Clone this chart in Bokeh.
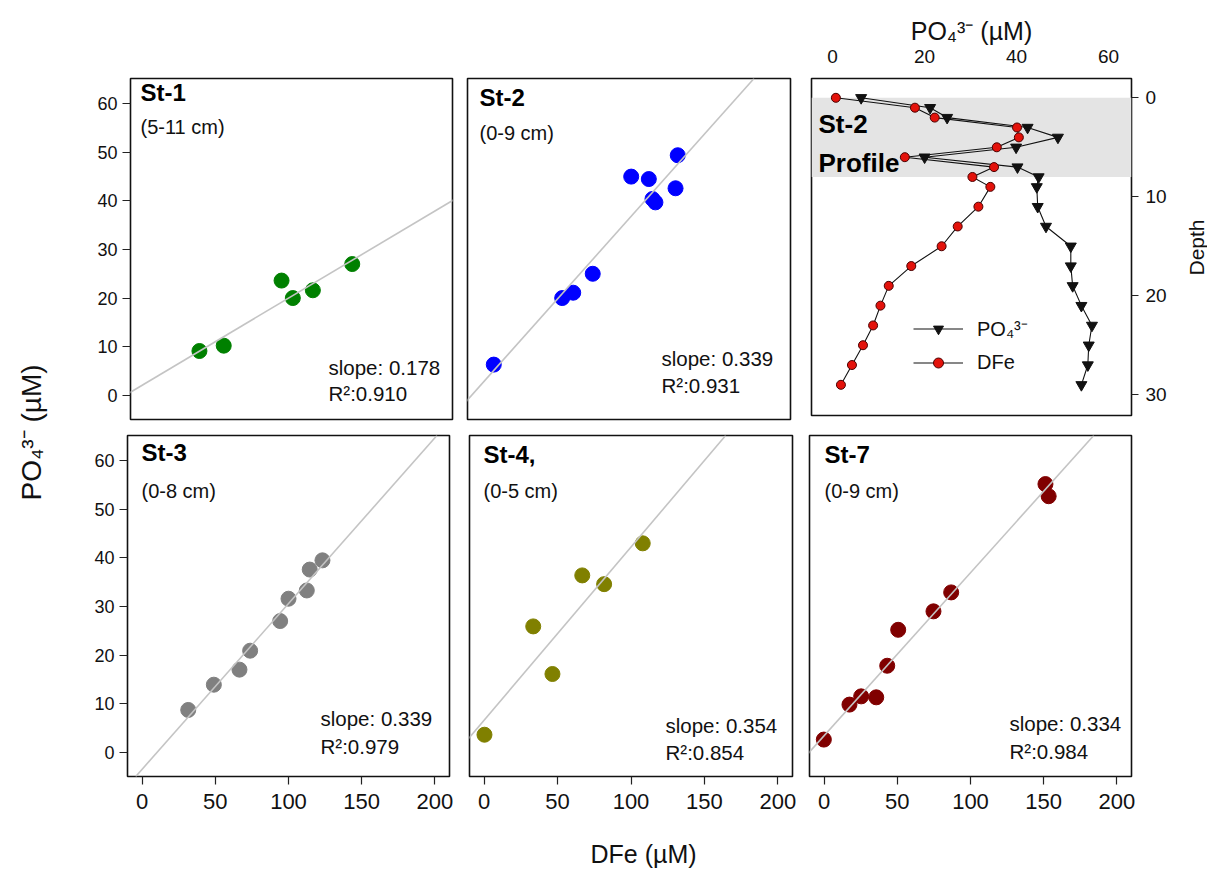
import numpy as np
from bokeh.plotting import figure
from bokeh.layouts import row, column
from bokeh.models import (Range1d, LinearAxis, FixedTicker, Label, Slope,
                          BoxAnnotation, Legend, LegendItem)
from bokeh.embed import file_html
from bokeh.resources import INLINE

FONT = "Liberation Sans"
NARROW = "'Liberation Sans Narrow', 'Liberation Sans', sans-serif"

# ---------------- data ----------------
st1_dfe = [37.1, 53.7, 93.2, 100.9, 114.6, 141.5]
st1_po4 = [9.1, 10.2, 23.6, 20.0, 21.6, 27.0]

st2_dfe = [7.9, 54.5, 62.0, 75.3, 101.5, 113.5, 116.0, 118.0, 131.7, 133.2]
st2_po4 = [6.3, 20.0, 21.1, 25.0, 45.0, 44.5, 40.4, 39.7, 42.6, 49.4]

st3_dfe = [31.5, 49.0, 66.5, 73.8, 94.3, 100.0, 112.5, 114.5, 123.2]
st3_po4 = [8.7, 13.9, 17.0, 20.9, 27.0, 31.6, 33.3, 37.6, 39.5]

st4_dfe = [0.2, 33.4, 46.5, 66.8, 81.7, 108.0]
st4_po4 = [3.6, 25.9, 16.1, 36.4, 34.6, 43.0]

st7_dfe = [-0.2, 17.3, 25.3, 35.6, 43.1, 50.6, 74.7, 86.8, 151.2, 153.4]
st7_po4 = [2.6, 9.8, 11.5, 11.3, 17.8, 25.2, 29.0, 32.9, 55.2, 52.7]

prof_depth = [0, 1, 2, 3, 4, 5, 6, 7, 8, 9, 11, 13, 15, 17, 19, 21, 23, 25, 27, 29]
prof_po4 = [6.2, 21.2, 24.9, 42.4, 49.0, 39.9, 20.0, 40.2, 44.8, 44.4,
            44.6, 46.4, 51.8, 51.8, 52.2, 54.1, 56.4, 55.7, 55.5, 54.1]
prof_dfe = [0.7, 17.9, 22.2, 40.1, 40.5, 35.7, 15.7, 35.1, 30.4, 34.3,
            31.7, 27.2, 23.7, 17.1, 12.2, 10.4, 8.8, 6.6, 4.2, 1.8]

titles = ["St-1", "St-2", "St-3", "St-4,", "St-7"]
ranges_cm = ["(5-11 cm)", "(0-9 cm)", "(0-8 cm)", "(0-5 cm)", "(0-9 cm)"]
slopes = ["slope: 0.178", "slope: 0.339", "slope: 0.339", "slope: 0.354", "slope: 0.334"]
r2s = ["R\u00b2:0.910", "R\u00b2:0.931", "R\u00b2:0.979", "R\u00b2:0.854", "R\u00b2:0.984"]
colors = ["#008000", "#0000ff", "#808080", "#808000", "#800000"]

y_ticks = [0, 10, 20, 30, 40, 50, 60]
x_ticks = [0, 50, 100, 150, 200]
prof_x_ticks = [0, 20, 40, 60]
prof_depth_ticks = [0, 10, 20, 30]

X_RANGE = (-10, 210)
Y_RANGE = (-5.0, 65.2)
RIGHT_BORDER = 45


def base(fw, fh, bl, br, bt, bb, xr=X_RANGE, yr=Y_RANGE):
    p = figure(frame_width=fw, frame_height=fh,
               x_range=Range1d(*xr), y_range=Range1d(*yr),
               x_axis_location=None, y_axis_location=None,
               toolbar_location=None, output_backend="svg",
               min_border_left=bl, min_border_right=br,
               min_border_top=bt, min_border_bottom=bb)
    p.grid.grid_line_color = None
    p.outline_line_color = "#111111"
    p.outline_line_width = 1.6
    p.background_fill_color = "white"
    p.border_fill_color = "white"
    return p


def strip(w, h):
    s = figure(width=w, height=h, x_axis_location=None, y_axis_location=None,
               toolbar_location=None, output_backend="svg", min_border=0)
    s.grid.grid_line_color = None
    s.outline_line_color = None
    return s


def style_axis(ax, font=FONT, size="18px", tick_out=8, standoff=5):
    ax.axis_line_color = None
    ax.major_tick_in = 0
    ax.major_tick_out = tick_out
    ax.major_tick_line_color = "#222222"
    ax.major_tick_line_width = 1.2
    ax.minor_tick_line_color = None
    ax.major_label_text_font = font
    ax.major_label_text_font_size = size
    ax.major_label_text_color = "#111111"
    ax.major_label_standoff = standoff
    ax.axis_label_text_font = FONT
    ax.axis_label_text_font_style = "normal"
    ax.axis_label_text_color = "#111111"


def scatter_panel(p, xs, ys, i, tpos):
    (tx, ty, rx, ry, sx, sy, qy) = tpos
    m, b = np.polyfit(xs, ys, 1)
    p.add_layout(Slope(gradient=m, y_intercept=b, line_color="#c4c4c4", line_width=1.6))
    p.scatter(xs, ys, size=15, fill_color=colors[i], line_color=colors[i])
    p.add_layout(Label(x=tx, y=ty, x_units="screen", y_units="screen", text=titles[i],
                       text_font=FONT, text_font_style="bold", text_font_size="24px",
                       text_color="black"))
    p.add_layout(Label(x=rx, y=ry, x_units="screen", y_units="screen", text=ranges_cm[i],
                       text_font=FONT, text_font_size="20px", text_color="#111111"))
    p.add_layout(Label(x=sx, y=sy, x_units="screen", y_units="screen", text=slopes[i],
                       text_font=FONT, text_font_size="20.5px", text_color="#111111"))
    p.add_layout(Label(x=sx, y=qy, x_units="screen", y_units="screen", text=r2s[i],
                       text_font=FONT, text_font_size="20.5px", text_color="#111111"))


# ---------------- left column: shared y label ----------------
ylab = strip(60, 871)
ylab.add_layout(Label(x=31, y=439, x_units="screen", y_units="screen",
                      text="PO\u2084\u00b3\u207b (\u00b5M)", angle=np.pi / 2,
                      text_align="center", text_baseline="middle",
                      text_font=FONT, text_font_size="28px", text_color="#111111"))

# ---------------- top row ----------------
pA = base(322, 341, 70, 7, 77, 8)
axA = LinearAxis(ticker=FixedTicker(ticks=y_ticks))
style_axis(axA)
pA.add_layout(axA, "left")
scatter_panel(pA, st1_dfe, st1_po4, 0, (10, 314, 10, 282, 198, 41, 15))

pB = base(323, 341, 8, 10, 77, 8)
scatter_panel(pB, st2_dfe, st2_po4, 1, (12, 309, 12, 276, 194, 50, 23))

# profile panel
pC = base(320, 337, 11, RIGHT_BORDER, 78, 11, xr=(-4.6, 65.0), yr=(32.1, -1.95))
pC.add_layout(BoxAnnotation(top=0, bottom=8, fill_color="#e4e4e4", fill_alpha=1.0,
                            line_color=None, level="underlay"))
axCt = LinearAxis(ticker=FixedTicker(ticks=prof_x_ticks),
                  axis_label="PO\u2084\u00b3\u207b (\u00b5M)")
style_axis(axCt, size="19px", tick_out=0, standoff=16)
axCt.axis_label_text_font_size = "25px"
axCt.axis_label_standoff = 2
pC.add_layout(axCt, "above")
axCr = LinearAxis(ticker=FixedTicker(ticks=prof_depth_ticks))
style_axis(axCr, size="19px", tick_out=7, standoff=7)
pC.add_layout(axCr, "right")
l1 = pC.line(prof_po4, prof_depth, line_color="#111111", line_width=1.1)
m1 = pC.scatter(prof_po4, prof_depth, marker="inverted_triangle", size=11,
                fill_color="#111111", line_color="#111111")
l2 = pC.line(prof_dfe, prof_depth, line_color="#111111", line_width=1.1)
m2 = pC.scatter(prof_dfe, prof_depth, marker="circle", size=9,
                fill_color="#e3120b", line_color="#4a0000", line_width=1)
leg = Legend(items=[LegendItem(label="PO\u2084\u00b3\u207b", renderers=[l1, m1]),
                    LegendItem(label="DFe", renderers=[l2, m2])],
             location=(102, 40), orientation="vertical",
             border_line_color=None, background_fill_alpha=0.0,
             padding=0, margin=0, spacing=8, glyph_width=50, glyph_height=25,
             label_height=25, label_standoff=14, label_text_font=FONT,
             label_text_font_size="20px", label_text_color="#111111")
pC.add_layout(leg)
pC.add_layout(Label(x=7, y=277, x_units="screen", y_units="screen", text="St-2",
                    text_font=FONT, text_font_style="bold", text_font_size="26px",
                    text_color="black"))
pC.add_layout(Label(x=7, y=238, x_units="screen", y_units="screen", text="Profile",
                    text_font=FONT, text_font_style="bold", text_font_size="26px",
                    text_color="black"))

# ---------------- bottom row ----------------
pD = base(322, 341, 67, 10, 9, 60)
axDl = LinearAxis(ticker=FixedTicker(ticks=y_ticks))
style_axis(axDl)
pD.add_layout(axDl, "left")
axDb = LinearAxis(ticker=FixedTicker(ticks=x_ticks))
style_axis(axDb, font=NARROW, size="22px", standoff=9)
pD.add_layout(axDb, "below")
scatter_panel(pD, st3_dfe, st3_po4, 2, (14, 311, 14, 275, 193, 47, 19))

pE = base(323, 341, 10, 8, 9, 60)
axEb = LinearAxis(ticker=FixedTicker(ticks=x_ticks))
style_axis(axEb, font=NARROW, size="22px", standoff=9)
pE.add_layout(axEb, "below")
scatter_panel(pE, st4_dfe, st4_po4, 3, (14, 309, 14, 275, 196, 40, 13))

pF = base(322, 341, 9, RIGHT_BORDER, 9, 60)
axFb = LinearAxis(ticker=FixedTicker(ticks=x_ticks))
style_axis(axFb, font=NARROW, size="22px", standoff=9)
pF.add_layout(axFb, "below")
scatter_panel(pF, st7_dfe, st7_po4, 4, (15, 309, 15, 275, 200, 42, 14))

# ---------------- bottom strip: shared x label ----------------
grid_width = 399 + 341 + (11 + 320 + RIGHT_BORDER)
xlab = strip(grid_width, 35)
xlab.add_layout(Label(x=583, y=4, x_units="screen", y_units="screen", text="DFe (\u00b5M)",
                      text_align="center", text_font=NARROW, text_font_size="25px",
                      text_color="#111111"))

# ---------------- right strip: depth label ----------------
dlab = strip(1207 - 60 - grid_width, 871)
dlab.add_layout(Label(x=20, y=624, x_units="screen", y_units="screen",
                      text="Depth", angle=np.pi / 2,
                      text_align="center", text_baseline="middle",
                      text_font=FONT, text_font_size="21px", text_color="#111111"))

layout = row(ylab, column(row(pA, pB, pC), row(pD, pE, pF), xlab), dlab)

open("out.html", "w").write(file_html(layout, INLINE))
